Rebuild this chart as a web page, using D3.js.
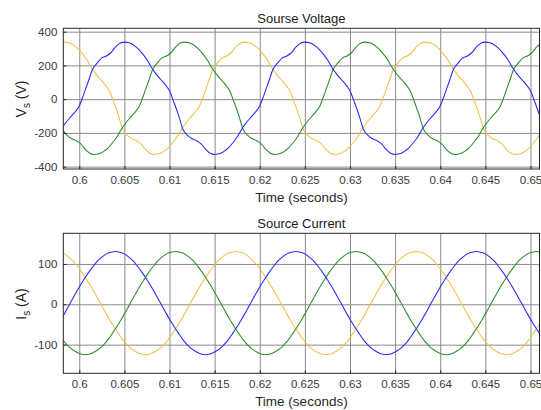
<!DOCTYPE html>
<html><head><meta charset="utf-8">
<script src="https://cdn.jsdelivr.net/npm/d3@7"></script>
<style>
body{margin:0;background:#fff}
svg{display:block}
text{font-family:"Liberation Sans",Arial,Helvetica,sans-serif}
</style>
</head><body>
<svg id="c" width="541" height="410"></svg>
<script>
// ---------- data ----------
const xTicks = [0.6,0.605,0.61,0.615,0.62,0.625,0.63,0.635,0.64,0.645,0.65];
const xTickLabels = ["0.6","0.605","0.61","0.615","0.62","0.625","0.63","0.635","0.64","0.645","0.65"];
const vTicks = [-400,-200,0,200,400];
const vTickLabels = ["-400","-200","0","200","400"];
const iTicks = [-100,0,100];
const iTickLabels = ["-100","0","100"];

// sample start times (s) for each phase, sampled every 0.5 ms
const startBlue = 0.5975, startGreen = 0.597667, startYellow = 0.597833;
const sampleStep = 0.0005;

const vBlue = [
-224,-178,-140,-108,-78,-40,30,105,180,215,245,256,275,308,331,338,334,321,300,270,234,188,150,118,88,50,-20,-95,-180,-215,-235,-246,-265,-298,-321,-328,-324,-311,-290,-260,
-224,-178,-140,-108,-78,-40,30,105,180,215,245,256,275,308,331,338,334,321,300,270,234,188,150,118,88,50,-20,-95,-180,-215,-235,-246,-265,-298,-321,-328,-324,-311,-290,-260,
-224,-178,-140,-108,-78,-40,30,105,180,215,245,256,275,308,331,338,334,321,300,270,234,188,150,118,88,50,-20,-95,-180];
const vGreen = [
-95,-180,-215,-235,-246,-265,-298,-321,-328,-324,-311,-290,-260,-224,-178,-140,-108,-78,-40,30,105,180,215,245,256,275,308,331,338,334,321,300,270,234,188,150,118,88,50,-20,
-95,-180,-215,-235,-246,-265,-298,-321,-328,-324,-311,-290,-260,-224,-178,-140,-108,-78,-40,30,105,180,215,245,256,275,308,331,338,334,321,300,270,234,188,150,118,88,50,-20,
-95,-180,-215,-235,-246,-265,-298,-321,-328,-324,-311,-290,-260,-224,-178,-140,-108,-78,-40,30,105,180,215,245,256,275,308,331,338];
const vYellow = [
331,338,334,321,300,270,234,188,150,118,88,50,-20,-95,-180,-215,-235,-246,-265,-298,-321,-328,-324,-311,-290,-260,-224,-178,-140,-108,-78,-40,30,105,180,215,245,256,275,308,
331,338,334,321,300,270,234,188,150,118,88,50,-20,-95,-180,-215,-235,-246,-265,-298,-321,-328,-324,-311,-290,-260,-224,-178,-140,-108,-78,-40,30,105,180,215,245,256,275,308,
331,338,334,321,300,270,234,188,150,118,88,50,-20,-95,-180,-215,-235,-246,-265,-298,-321,-328,-324,-311,-290,-260,-224,-178,-140];

const iBlue = [
-55,-37,-17,3,23,43,61,78,93,107,117,125,129,131,129,125,117,107,93,78,61,43,23,3,-17,-37,-55,-72,-88,-101,-111,-118,-123,-125,-123,-118,-111,-101,-88,-72,
-55,-37,-17,3,23,43,61,78,93,107,117,125,129,131,129,125,117,107,93,78,61,43,23,3,-17,-37,-55,-72,-88,-101,-111,-118,-123,-125,-123,-118,-111,-101,-88,-72,
-55,-37,-17,3,23,43,61,78,93,107,117,125,129,131,129,125,117,107,93,78,61,43,23,3,-17,-37,-55,-72,-88];
const iGreen = [
-72,-88,-101,-111,-118,-123,-125,-123,-118,-111,-101,-88,-72,-55,-37,-17,3,23,43,61,78,93,107,117,125,129,131,129,125,117,107,93,78,61,43,23,3,-17,-37,-55,
-72,-88,-101,-111,-118,-123,-125,-123,-118,-111,-101,-88,-72,-55,-37,-17,3,23,43,61,78,93,107,117,125,129,131,129,125,117,107,93,78,61,43,23,3,-17,-37,-55,
-72,-88,-101,-111,-118,-123,-125,-123,-118,-111,-101,-88,-72,-55,-37,-17,3,23,43,61,78,93,107,117,125,129,131,129,125];
const iYellow = [
129,125,117,107,93,78,61,43,23,3,-17,-37,-55,-72,-88,-101,-111,-118,-123,-125,-123,-118,-111,-101,-88,-72,-55,-37,-17,3,23,43,61,78,93,107,117,125,129,131,
129,125,117,107,93,78,61,43,23,3,-17,-37,-55,-72,-88,-101,-111,-118,-123,-125,-123,-118,-111,-101,-88,-72,-55,-37,-17,3,23,43,61,78,93,107,117,125,129,131,
129,125,117,107,93,78,61,43,23,3,-17,-37,-55,-72,-88,-101,-111,-118,-123,-125,-123,-118,-111,-101,-88,-72,-55,-37,-17];

// ---------- layout ----------
const svg = d3.select("#c");
const X0 = 63.3, X1 = 539.5;
const x = d3.scaleLinear().domain([0.59823, 0.65100]).range([X0, X1]);
const colors = {blue:"#2b2bff", green:"#2e8f2e", yellow:"#f3c04f"};

function panel(opt){
  const {top, bottom, domain, ticks, tickLabels, title, titleY, ylabMain, ylabUnit, ylabY, series, curve} = opt;
  const y = d3.scaleLinear().domain(domain).range([bottom, top]);
  const g = svg.append("g");
  const h = bottom - top, w = X1 - X0;
  const cid = "clip" + Math.round(top);
  svg.append("clipPath").attr("id", cid).append("rect")
     .attr("x", X0).attr("y", top).attr("width", w).attr("height", h);

  // grid
  const gx = g.append("g").attr("transform", `translate(0,${bottom})`)
    .call(d3.axisBottom(x).tickValues(xTicks).tickSize(-h).tickFormat(""));
  gx.select(".domain").remove();
  gx.selectAll("line").attr("stroke", "#8a8a8a").attr("stroke-width", 1);
  const gy = g.append("g").attr("transform", `translate(${X0},0)`)
    .call(d3.axisLeft(y).tickValues(ticks).tickSize(-w).tickFormat(""));
  gy.select(".domain").remove();
  gy.selectAll("line").attr("stroke", "#8a8a8a").attr("stroke-width", 1);

  // series
  const line = d3.line().x(d => x(d[0])).y(d => y(d[1])).curve(curve);
  const lg = g.append("g").attr("clip-path", `url(#${cid})`);
  series.forEach(s => {
    const pts = s.values.map((v, i) => [s.start + i * sampleStep, v]);
    lg.append("path").attr("d", line(pts)).attr("fill", "none")
      .attr("stroke", s.color).attr("stroke-width", 1.1);
  });

  // frame
  g.append("rect").attr("x", X0).attr("y", top).attr("width", w).attr("height", h)
    .attr("fill", "none").attr("stroke", "#262626").attr("stroke-width", 1);

  // tick labels via axes
  const ax = g.append("g").attr("transform", `translate(0,${bottom})`)
    .call(d3.axisBottom(x).tickValues(xTicks).tickSizeInner(-3).tickSizeOuter(0)
      .tickPadding(7).tickFormat((d, i) => xTickLabels[i]));
  ax.select(".domain").remove();
  ax.selectAll("line").attr("stroke", "#262626");
  ax.selectAll("text").attr("font-size", 11.5).attr("fill", "#3a3a3a")
    .attr("font-family", '"Liberation Sans",Arial,sans-serif');
  const ay = g.append("g").attr("transform", `translate(${X0},0)`)
    .call(d3.axisLeft(y).tickValues(ticks).tickSizeInner(-3).tickSizeOuter(0)
      .tickPadding(6).tickFormat((d, i) => tickLabels[i]));
  ay.select(".domain").remove();
  ay.selectAll("line").attr("stroke", "#262626");
  ay.selectAll("text").attr("font-size", 11.5).attr("fill", "#3a3a3a")
    .attr("font-family", '"Liberation Sans",Arial,sans-serif');

  // title
  svg.append("text").attr("x", (X0 + X1) / 2).attr("y", titleY)
    .attr("text-anchor", "middle").attr("font-size", 13).attr("fill", "#1a1a1a").text(title);
  // x label
  svg.append("text").attr("x", (X0 + X1) / 2).attr("y", bottom + 33)
    .attr("text-anchor", "middle").attr("font-size", 13.5).attr("fill", "#262626").text("Time (seconds)");
  // y label
  const yl = svg.append("text").attr("transform", `translate(26,${ylabY}) rotate(-90)`)
    .attr("text-anchor", "middle").attr("font-size", 14).attr("fill", "#262626");
  yl.append("tspan").text(ylabMain);
  yl.append("tspan").attr("font-size", 10).attr("dy", 3.5).text("s");
  yl.append("tspan").attr("dy", -3.5).text(" " + ylabUnit);
}

panel({
  top: 28.3, bottom: 169, domain: [-414, 420], ticks: vTicks, tickLabels: vTickLabels,
  title: "Sourse Voltage", titleY: 23, ylabMain: "V", ylabUnit: "(V)", ylabY: 99,
  curve: d3.curveMonotoneX,
  series: [
    {values: vYellow, start: startYellow, color: colors.yellow},
    {values: vGreen, start: startGreen, color: colors.green},
    {values: vBlue, start: startBlue, color: colors.blue}
  ]
});
panel({
  top: 233.3, bottom: 373.3, domain: [-171, 176], ticks: iTicks, tickLabels: iTickLabels,
  title: "Source Current", titleY: 227.5, ylabMain: "I", ylabUnit: "(A)", ylabY: 304,
  curve: d3.curveMonotoneX,
  series: [
    {values: iYellow, start: startYellow, color: colors.yellow},
    {values: iGreen, start: startGreen, color: colors.green},
    {values: iBlue, start: startBlue, color: colors.blue}
  ]
});
</script>
</body></html>
